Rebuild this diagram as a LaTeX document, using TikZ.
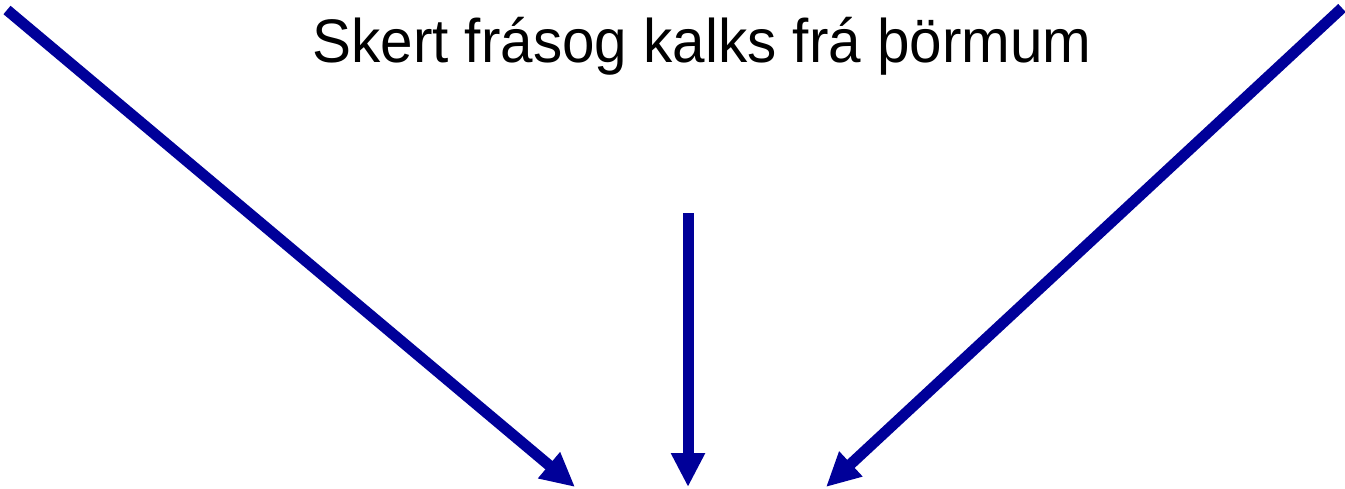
\documentclass[tikz,border=0pt]{standalone}
\usepackage{fontspec}
\setmainfont{Liberation Sans}
\usetikzlibrary{arrows.meta}
\definecolor{arrowblue}{RGB}{0,0,153}

\begin{document}
\begin{tikzpicture}[x=0.02cm,y=-0.02cm,
    pil/.style={draw=arrowblue,line width=0.22cm,
      -{Triangle[length=0.68cm,width=0.64cm]}}]

      \useasboundingbox (0,0) rectangle (1345,488);

      \node[anchor=base,inner sep=0pt,font=\fontsize{35}{42}\selectfont] (frasog) at (702,62)
        {\scalebox{0.95}[1]{Skert frásog kalks frá þörmum}};

      \coordinate (vinstri) at (7,10);
      \coordinate (midja)   at (688,213);
      \coordinate (haegri)  at (1342,8);
      \coordinate (a)  at (575,487);
      \coordinate (b)  at (688,487);
      \coordinate (c)  at (826,487);

      \path[pil] (vinstri) -- (a);
      \path[pil] (midja) -- (b);
      \path[pil] (haegri) -- (c);

    \end{tikzpicture}
\end{document}
